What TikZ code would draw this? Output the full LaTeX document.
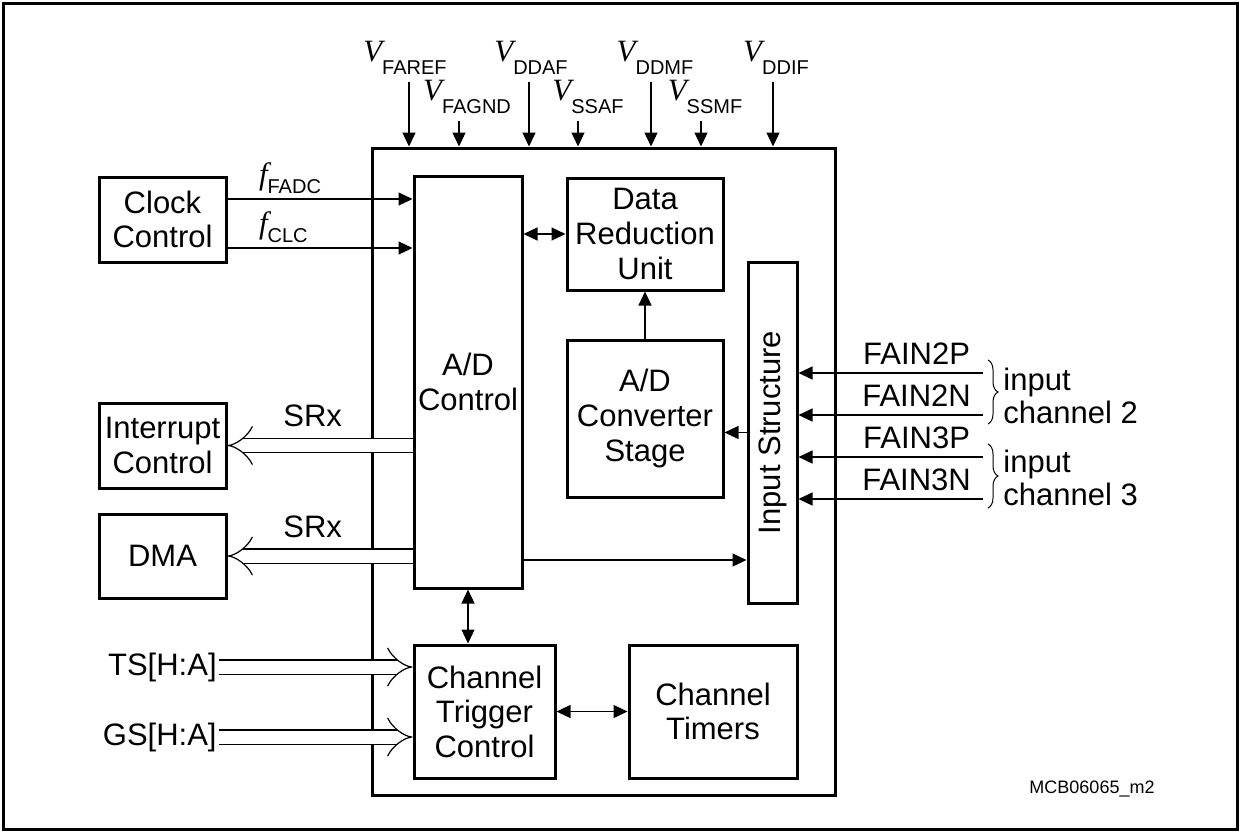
\documentclass[tikz,border=0pt]{standalone}
\usepackage{fontspec}
\setmainfont{Liberation Sans}
\newfontfamily\symfont{Liberation Serif}
\usetikzlibrary{arrows.meta,decorations.pathreplacing}

\newcommand{\volt}[1]{{\symfont\itshape V}\raisebox{-6.5pt}{\fontsize{10}{10}\selectfont #1}}
\newcommand{\freq}[1]{{\symfont\itshape f}\raisebox{-4.5pt}{\fontsize{10}{10}\selectfont #1}}

\begin{document}
\begin{tikzpicture}
[x=0.5pt,y=-0.5pt,
  font=\fontsize{15.5}{17.3}\selectfont,
  blockDecorate/.style={shape=rectangle,draw,line width=1.5pt,inner sep=0pt,align=center},
  sigDecorate/.style={line width=0.6pt,-{Triangle[length=7pt,width=6.5pt]}},
  bothDecorate/.style={line width=0.6pt,{Triangle[length=7pt,width=6.5pt]}-{Triangle[length=7pt,width=6.5pt]}},
  busDecorate/.style={double,double distance=6.5pt,line width=0.6pt,-{Implies}},
  braceDecorate/.style={line width=0.5pt,decorate,decoration={brace,amplitude=5pt}}]
\useasboundingbox (0,0) rectangle (1240,832);
\draw[line width=1.5pt] (3,3) rectangle (1237,829);
%% blocks
\node (chip) at (603.5,471.5) [blockDecorate,minimum width=231.5pt,minimum height=323.5pt] {};
\foreach \nodename/\x/\y/\w/\h/\txt in {
  clk/162.5/219.5/63.5/42.5/{Clock\\Control},
  intr/162.5/445.5/63.5/42.5/{Interrupt\\Control},
  dma/162.5/556/63.5/42/{DMA},
  adc/468/382/54/206/{A/D\\Control},
  dru/645/234/78/56/{Data\\Reduction\\Unit},
  conv/645/418.5/78/78.5/{A/D\\Converter\\Stage},
  instr/772.5/432.5/24.5/170.5/{},
  ctc/484.5/711.5/70.5/66.5/{Channel\\Trigger\\Control},
  tim/713/711.5/84/66.5/{Channel\\Timers}}
{
  \node (\nodename) at (\x,\y) [blockDecorate,minimum width=\w pt,minimum height=\h pt] {\txt};
}
\node (instr-lab) at (instr) [rotate=90] {Input Structure};
%% supply pins
\foreach \pinname/\x/\lx/\y/\txt in {
  faref/409/405/82/FAREF, fagnd/459/467/121/FAGND, ddaf/529/531/82/DDAF,
  ssaf/578/588/121/SSAF, ddmf/651/655/82/DDMF, ssmf/701/705/121/SSMF, ddif/773/776/82/DDIF}
{
  \coordinate (\pinname) at (\x,\y);
  \node (\pinname-lab) at (\lx,\y) [above=3.5pt,inner sep=0pt] {\volt{\txt}};
  \draw[sigDecorate] (\pinname) -- (\pinname |- chip.north);
}
%% clock lines
\draw[sigDecorate] ([yshift=10.25pt]clk.east) -- ([yshift=10.25pt]clk.east -| adc.west)
  node (fadc) [pos=0.14,anchor=south west,inner sep=2.5pt] {\freq{FADC}};
\draw[sigDecorate] ([yshift=-14.25pt]clk.east) -- ([yshift=-14.25pt]clk.east -| adc.west)
  node (fclc) [pos=0.14,anchor=south west,inner sep=2.5pt] {\freq{CLC}};
%% service requests
\draw[busDecorate] (adc.west |- intr.east) -- (intr.east)
  node (srx1) [pos=0.54,above=9pt,inner sep=0pt] {SRx};
\draw[busDecorate] (adc.west |- dma.east) -- (dma.east)
  node (srx2) [pos=0.54,above=9pt,inner sep=0pt] {SRx};
%% trigger inputs
\node (ts) at (219,667) [anchor=east,inner sep=1pt] {TS[H:A]};
\node (gs) at (219,737) [anchor=east,inner sep=1pt] {GS[H:A]};
\draw[busDecorate] (ts.east) -- (ts.east -| ctc.west);
\draw[busDecorate] (gs.east) -- (gs.east -| ctc.west);
%% internal paths
\draw[bothDecorate] (adc.east |- dru.west) -- (dru.west);
\draw[sigDecorate] (conv.north) -- (dru.south);
\draw[sigDecorate] (instr.west) -- (instr.west -| conv.east);
\draw[sigDecorate] ([yshift=-89pt]adc.east) -- ([yshift=-89pt]adc.east -| instr.west);
\draw[bothDecorate] (adc.south) -- (adc.south |- ctc.north);
\draw[bothDecorate] (ctc.east) -- (tim.west);
%% analog inputs
\foreach \pinname/\y/\txt in {in2p/373/FAIN2P, in2n/415/FAIN2N, in3p/457/FAIN3P, in3n/499/FAIN3N}
{
  \coordinate (\pinname) at (983,\y);
  \draw[sigDecorate] (\pinname) -- (\pinname -| instr.east)
    node (\pinname-lab) [pos=0.36,above=4pt,inner sep=0pt] {\txt};
}
\draw[braceDecorate] (988,360) -- (988,424);
\draw[braceDecorate] (988,444) -- (988,508);
\node (ch2) at (1003,396) [anchor=west,align=left,inner sep=0pt,font=\fontsize{15.5}{16.5}\selectfont] {input\\channel 2};
\node (ch3) at (1003,478) [anchor=west,align=left,inner sep=0pt,font=\fontsize{15.5}{16.5}\selectfont] {input\\channel 3};
\node (code) at (1092,789) [font=\fontsize{9}{10}\selectfont] {MCB06065\_m2};
\end{tikzpicture}
\end{document}
